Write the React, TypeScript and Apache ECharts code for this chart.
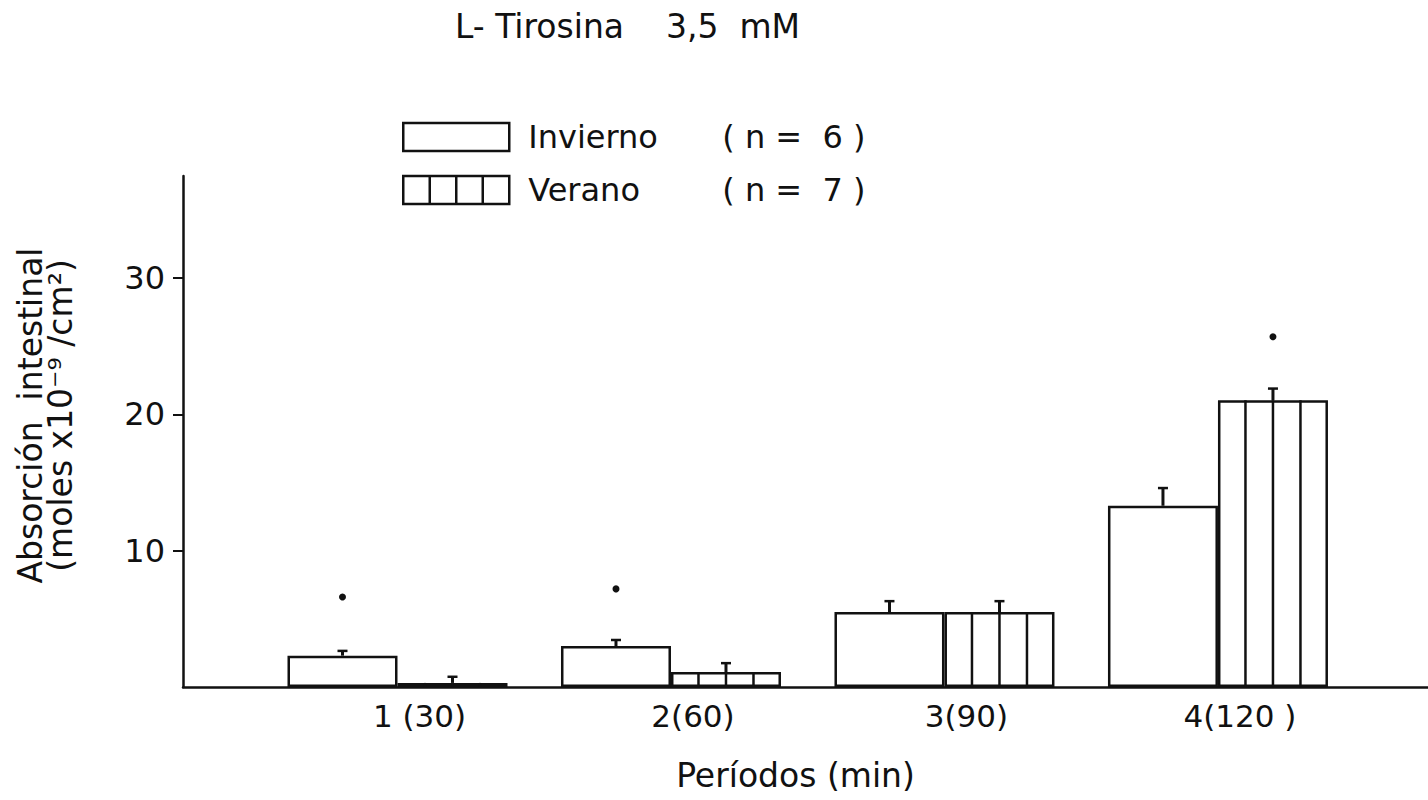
import React, { useEffect, useRef } from "react";
import * as echarts from "echarts";

// ---- data ----
const periodLabels = ["1 (30)", "2(60)", "3(90)", "4(120 )"];
const periodPos = [1, 2, 3, 4];
const inviernoMean = [2.3, 3.0, 5.5, 13.3];
const inviernoErrTop = [2.65, 3.45, 6.3, 14.6];
const veranoMean = [0.3, 1.1, 5.5, 21.05];
const veranoErrTop = [0.75, 1.75, 6.3, 21.9];
const inviernoSig: (number | null)[] = [6.6, 7.2, null, null];
const veranoSig: (number | null)[] = [null, null, null, 25.7];
const yTicks = [10, 20, 30];
const legendNames = ["Invierno", "Verano"];
const legendN = ["( n =  6 )", "( n =  7 )"];

const BAR_W = 110;
const INK = "#111";
const FONT = "DejaVu Sans";

export default function App() {
  const ref = useRef<HTMLDivElement>(null);

  useEffect(() => {
    if (!ref.current) return;
    const chart = echarts.init(ref.current, undefined, { renderer: "svg" });

    const errData: number[][] = [];
    periodPos.forEach((x, i) => {
      errData.push([x, inviernoMean[i], inviernoErrTop[i], -1]);
      errData.push([x, veranoMean[i], veranoErrTop[i], 1]);
    });
    const sigData: number[][] = [];
    periodPos.forEach((x, i) => {
      if (inviernoSig[i] != null) sigData.push([x, inviernoSig[i] as number, -1]);
      if (veranoSig[i] != null) sigData.push([x, veranoSig[i] as number, 1]);
    });

    const option: any = {
      animation: false,
      backgroundColor: "#fff",
      title: {
        text: "L- Tirosina    3,5  mM",
        left: 455,
        top: 10,
        padding: 0,
        textStyle: { fontFamily: FONT, fontSize: 33, fontWeight: "normal", color: INK },
      },
      legend: {
        orient: "vertical",
        left: 402,
        top: 121,
        padding: 0,
        itemWidth: 106,
        itemHeight: 28,
        itemGap: 21,
        selectedMode: false,
        data: [
          { name: legendNames[0], icon: "rect", itemStyle: { color: "#fff", borderColor: INK, borderWidth: 2.5 } },
          {
            name: legendNames[1],
            icon: "path://M0,0H106V28H0Z M26.5,0V28 M53,0V28 M79.5,0V28",
            itemStyle: { color: "#fff", borderColor: INK, borderWidth: 2.5 },
          },
        ],
        formatter: (name: string) => `{a|${name}}{b|${legendN[legendNames.indexOf(name)]}}`,
        textStyle: {
          fontFamily: FONT,
          fontSize: 32,
          color: INK,
          rich: {
            a: { fontFamily: FONT, fontSize: 32, color: INK, width: 194, padding: [0, 0, 0, 14] },
            b: { fontFamily: FONT, fontSize: 32, color: INK },
          },
        },
      },
      grid: { left: 183, right: 0, top: 176, bottom: 113, outerBoundsMode: "none" },
      xAxis: {
        type: "value",
        min: 0.2157,
        max: 4.768,
        name: "Períodos (min)",
        nameLocation: "middle",
        nameGap: 72,
        nameTextStyle: { fontFamily: FONT, fontSize: 33, color: INK, padding: [0, 20, 0, 0] },
        axisLine: { show: true, lineStyle: { color: INK, width: 2.5 } },
        axisTick: { show: false },
        splitLine: { show: false },
        axisLabel: {
          customValues: periodPos,
          formatter: (v: number) => periodLabels[periodPos.indexOf(Math.round(v))] ?? "",
          fontFamily: FONT,
          fontSize: 31,
          color: INK,
          margin: 13,
          padding: [0, 0, 0, 44],
        },
      },
      yAxis: {
        type: "value",
        min: 0,
        max: 37.5,
        name: "Absorción  intestinal\n(moles x10⁻⁹ /cm²)",
        nameLocation: "middle",
        nameRotate: 90,
        nameGap: 108,
        nameTextStyle: { fontFamily: FONT, fontSize: 33, color: INK, lineHeight: 30, padding: [0, 0, 0, 32] },
        axisLine: { show: true, lineStyle: { color: INK, width: 2.5 } },
        axisTick: { show: true, customValues: yTicks, length: 10, lineStyle: { color: INK, width: 2 } },
        splitLine: { show: false },
        axisLabel: {
          customValues: yTicks,
          fontFamily: FONT,
          fontSize: 32,
          color: INK,
          margin: 18,
        },
      },
      series: [
        {
          name: legendNames[0],
          type: "bar",
          barWidth: BAR_W,
          barGap: "0%",
          z: 2,
          itemStyle: { color: "#fff", borderColor: INK, borderWidth: 2.5 },
          data: periodPos.map((x, i) => [x, inviernoMean[i]]),
        },
        {
          name: legendNames[1],
          type: "bar",
          barWidth: BAR_W,
          barGap: "0%",
          z: 2,
          itemStyle: { color: "#fff", borderColor: INK, borderWidth: 2.5 },
          data: periodPos.map((x, i) => [x, veranoMean[i]]),
        },
        {
          name: "hatch",
          type: "custom",
          z: 3,
          silent: true,
          encode: { x: 0, y: 1 },
          data: periodPos.map((x, i) => [x, veranoMean[i]]),
          renderItem: (_p: any, api: any) => {
            const x = api.value(0);
            const top = api.coord([x, api.value(1)]);
            const base = api.coord([x, 0]);
            const children = [1, 2, 3].map((k) => ({
              type: "line",
              shape: { x1: top[0] + (BAR_W * k) / 4, y1: top[1], x2: top[0] + (BAR_W * k) / 4, y2: base[1] },
              style: { stroke: INK, lineWidth: 2.5 },
            }));
            return { type: "group", children };
          },
        },
        {
          name: "error",
          type: "custom",
          z: 4,
          silent: true,
          encode: { x: 0, y: 2 },
          data: errData,
          renderItem: (_p: any, api: any) => {
            const x = api.value(0);
            const side = api.value(3);
            const m = api.coord([x, api.value(1)]);
            const e = api.coord([x, api.value(2)]);
            const cx = m[0] + (side * BAR_W) / 2;
            return {
              type: "group",
              children: [
                { type: "line", shape: { x1: cx, y1: m[1], x2: cx, y2: e[1] }, style: { stroke: INK, lineWidth: 3 } },
                { type: "line", shape: { x1: cx - 5, y1: e[1], x2: cx + 5, y2: e[1] }, style: { stroke: INK, lineWidth: 2.5 } },
              ],
            };
          },
        },
        {
          name: "sig",
          type: "custom",
          z: 4,
          silent: true,
          encode: { x: 0, y: 1 },
          data: sigData,
          renderItem: (_p: any, api: any) => {
            const x = api.value(0);
            const side = api.value(2);
            const c = api.coord([x, api.value(1)]);
            return {
              type: "circle",
              shape: { cx: c[0] + (side * BAR_W) / 2, cy: c[1], r: 3.5 },
              style: { fill: INK },
            };
          },
        },
      ],
    };

    chart.setOption(option);
    return () => chart.dispose();
  }, []);

  return (
    <div
      ref={ref}
      style={{ position: "absolute", left: 0, top: 0, width: 1428, height: 800, background: "#fff" }}
    />
  );
}
